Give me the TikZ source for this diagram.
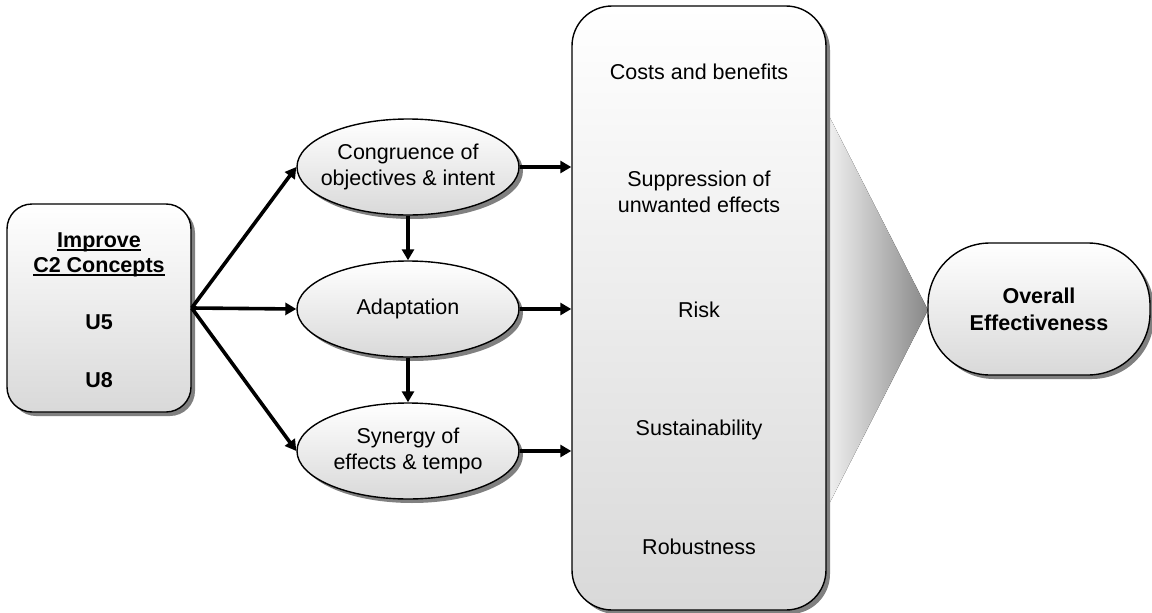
\documentclass[tikz,border=0pt]{standalone}
\usepackage{fontspec}
\setmainfont{Liberation Sans}
\usetikzlibrary{arrows.meta,shadows,shapes.geometric}
% underline with a heavier rule than \underline gives
\newcommand\undl[1]{\setbox0\hbox{#1}\rlap{\usebox0}\rule[-3.5pt]{\wd0}{1.8pt}}
\begin{document}
\begin{tikzpicture}[x=1pt,y=-1pt,
  font=\fontsize{21.5}{26}\selectfont,
  shaded/.style={top color=white,bottom color=black!15,draw=black,line width=1.4pt,
    drop shadow={shadow xshift=4pt,shadow yshift=-4pt,fill=black!50,opacity=1}},
  roundbox/.style={shaded,rectangle,inner sep=0pt},
  oval/.style={shaded,ellipse,inner sep=0pt,minimum width=222pt,minimum height=96pt},
  item/.style={align=center,inner sep=0pt},
  flow/.style={line width=3.6pt,-{Triangle[length=11pt,width=12pt]}},
]
\useasboundingbox (0,0) rectangle (1152,613);

% funnel between the criteria and the overall result
\fill[left color=black!5,right color=black!47] (826,110) -- (928,310) -- (826,510) -- cycle;

% source box
\node[roundbox,rounded corners=25pt,minimum width=184pt,minimum height=208pt] (src) at (99,308) {};
\node[item,font=\fontsize{21.5}{26}\selectfont\bfseries] (imp) at (99,242) {\undl{Improve}};
\node[item,font=\fontsize{21.5}{26}\selectfont\bfseries] (cc) at (99,267) {\undl{C2 Concepts}};
\node[item,font=\fontsize{21.5}{26}\selectfont\bfseries] (u5) at (99,322) {U5};
\node[item,font=\fontsize{21.5}{26}\selectfont\bfseries] (u8) at (99,380) {U8};

% intermediate effects
\node[oval,label={[item]center:Congruence of\\objectives \& intent}] (cong) at (408,167) {};
\node[oval,label={[item]center:Adaptation}] (adap) at (408,309) {};
\node[oval,label={[item]center:Synergy of\\effects \& tempo}] (syn) at (408,451) {};

% criteria box
\node[roundbox,rounded corners=40pt,minimum width=254pt,minimum height=604pt] (crit) at (699,308) {};
\node[item] (cost) at (699,72) {Costs and benefits};
\node[item] (supp) at (699,192) {Suppression of\\unwanted effects};
\node[item] (risk) at (699,310) {Risk};
\node[item] (sust) at (699,430) {Sustainability};
\node[item] (rob) at (699,547) {Robustness};

% overall result
\node[roundbox,rounded corners=62pt,minimum width=222pt,minimum height=132pt,
      align=center,font=\fontsize{21.5}{27}\selectfont\bfseries] (overall) at (1039,309)
      {Overall\\Effectiveness};

% connectors
\draw[flow] (src.east) -- (cong.west);
\draw[flow] (src.east) -- (adap.west);
\draw[flow] (src.east) -- (syn.west);
\draw[flow] (cong.south) -- (adap.north);
\draw[flow] (adap.south) -- (syn.north);
\draw[flow] (cong.east) -- (cong.east -| crit.west);
\draw[flow] (adap.east) -- (adap.east -| crit.west);
\draw[flow] (syn.east) -- (syn.east -| crit.west);
\end{tikzpicture}
\end{document}
